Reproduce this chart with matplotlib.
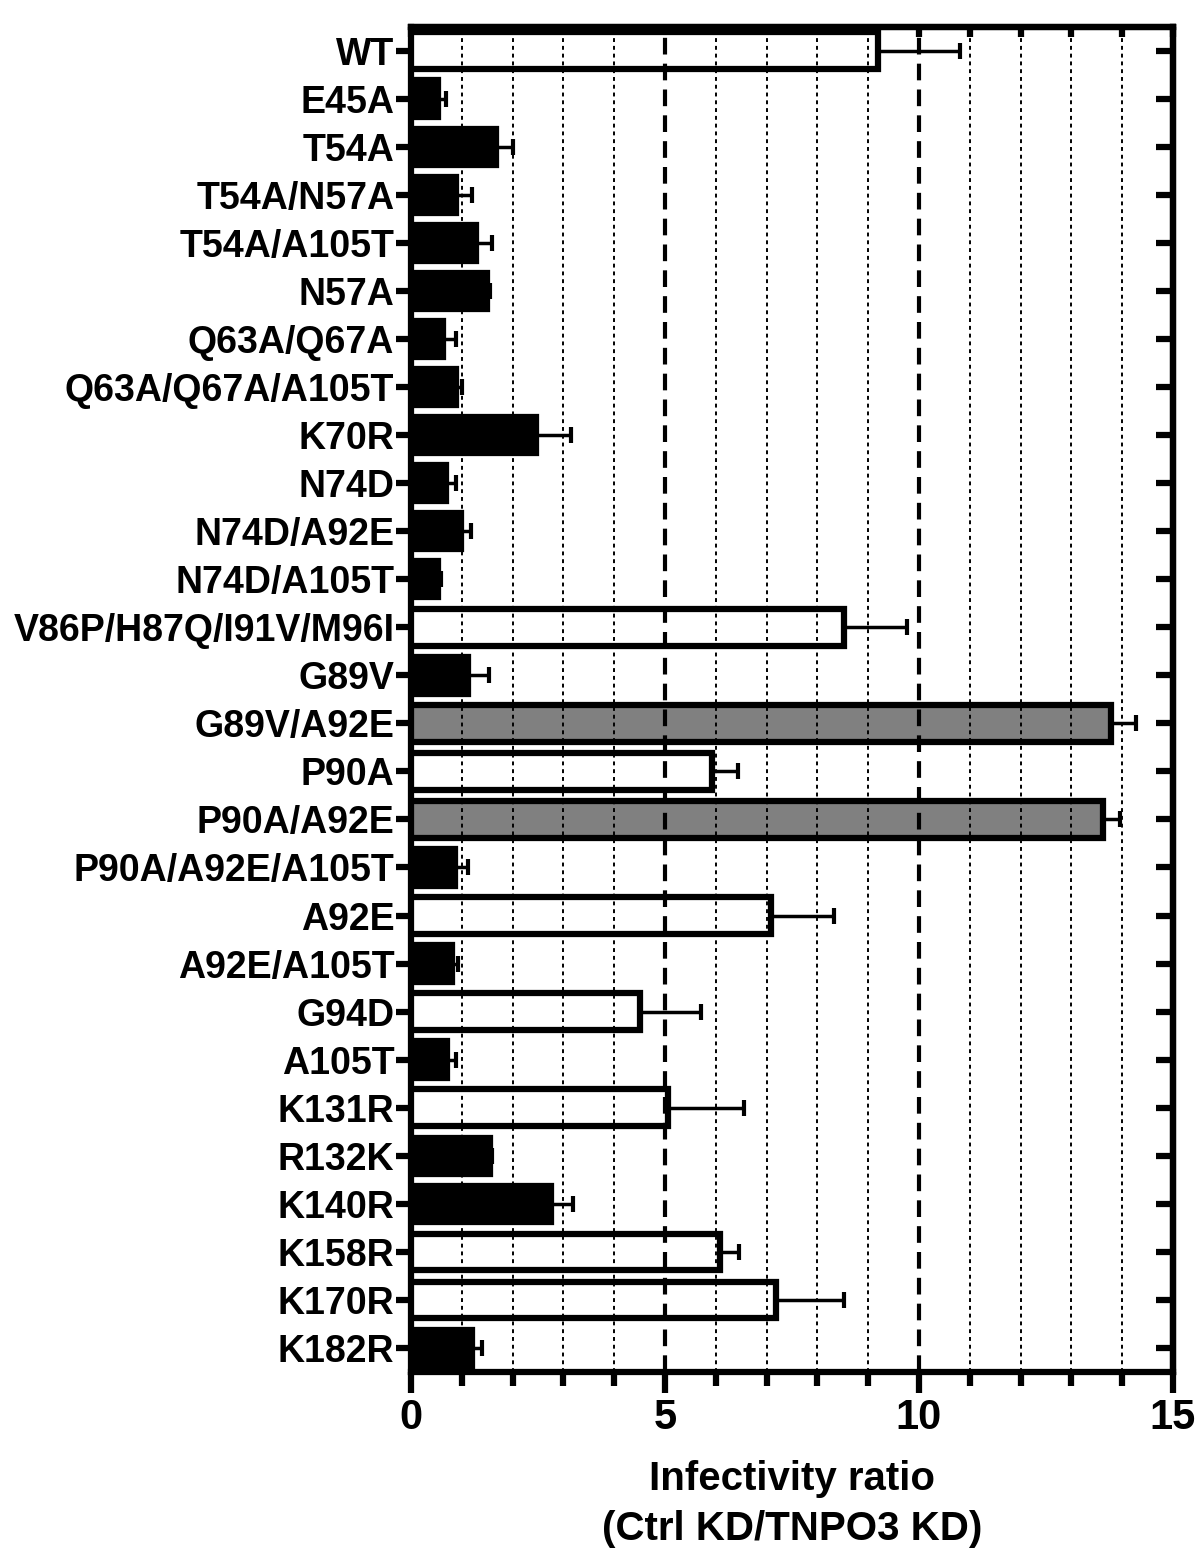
import numpy as np
import matplotlib
matplotlib.use('Agg')
import matplotlib.pyplot as plt
from matplotlib.ticker import MultipleLocator

plt.rcParams['font.family'] = ['Liberation Sans', 'DejaVu Sans']
plt.rcParams['font.weight'] = 'bold'

# Data
mutants = ['WT', 'E45A', 'T54A', 'T54A/N57A', 'T54A/A105T', 'N57A', 'Q63A/Q67A',
           'Q63A/Q67A/A105T', 'K70R', 'N74D', 'N74D/A92E', 'N74D/A105T',
           'V86P/H87Q/I91V/M96I', 'G89V', 'G89V/A92E', 'P90A', 'P90A/A92E',
           'P90A/A92E/A105T', 'A92E', 'A92E/A105T', 'G94D', 'A105T', 'K131R',
           'R132K', 'K140R', 'K158R', 'K170R', 'K182R']
ratio = [9.2, 0.53, 1.67, 0.88, 1.27, 1.49, 0.63, 0.88, 2.47, 0.69, 0.98, 0.53,
         8.53, 1.12, 13.78, 5.92, 13.63, 0.86, 7.08, 0.8, 4.51, 0.71, 5.06,
         1.55, 2.75, 6.08, 7.18, 1.2]
sem = [1.6, 0.15, 0.33, 0.32, 0.33, 0.06, 0.25, 0.12, 0.67, 0.19, 0.2, 0.07,
       1.23, 0.41, 0.49, 0.51, 0.33, 0.26, 1.25, 0.12, 1.19, 0.17, 1.49,
       0.05, 0.43, 0.37, 1.35, 0.19]
# group: 'b' = black, 'w' = white, 'g' = grey
group = ['w', 'b', 'b', 'b', 'b', 'b', 'b', 'b', 'b', 'b', 'b', 'b',
         'w', 'b', 'g', 'w', 'g', 'b', 'w', 'b', 'w', 'b', 'w',
         'b', 'b', 'w', 'w', 'b']
fill = {'b': 'black', 'w': 'white', 'g': '#808080'}

fig = plt.figure(figsize=(12, 15.68), dpi=100)
ax = fig.add_axes([0.3425, 0.125, 0.635, 0.858])

y = np.arange(len(mutants))

# grid lines: dotted every unit, dashed at 5 and 10 (drawn over the bar fill)
for v in range(1, 15):
    if v % 5 == 0:
        ax.axvline(v, color='black', lw=3, ls=(0, (4, 2.2)), zorder=4)
    else:
        ax.axvline(v, color='black', lw=1.4, ls=(0, (2, 2)), zorder=4)

ax.barh(y, ratio, height=0.76, color=[fill[g] for g in group],
        edgecolor='black', linewidth=4.5, zorder=3)
ax.errorbar(ratio, y, xerr=[np.zeros(len(sem)), sem], fmt='none',
            ecolor='black', elinewidth=2.5, capsize=6, capthick=3, zorder=2)

ax.set_xlim(0, 15)
ax.set_ylim(len(mutants) - 0.5, -0.5)
ax.set_yticks(y)
ax.set_yticklabels(mutants, fontsize=27, fontweight='bold')
ax.xaxis.set_major_locator(MultipleLocator(5))
ax.xaxis.set_minor_locator(MultipleLocator(1))
ax.tick_params(axis='x', which='major', length=15, width=4.5, labelsize=30,
               direction='out', pad=4)
ax.tick_params(axis='x', which='minor', length=10, width=4.5, direction='out')
ax.tick_params(axis='y', length=11, width=4.5, direction='out', pad=1)
for lab in ax.get_xticklabels():
    lab.set_fontweight('bold')

# inward ticks on the top and right edges
top = ax.secondary_xaxis('top')
top.xaxis.set_major_locator(MultipleLocator(1))
top.tick_params(axis='x', length=7, width=4.5, direction='in', labeltop=False)
top.spines['top'].set_linewidth(4.5)
right = ax.secondary_yaxis('right')
right.set_yticks(y)
right.tick_params(axis='y', length=12, width=4.5, direction='in', labelright=False)
right.spines['right'].set_linewidth(4.5)

for s in ax.spines.values():
    s.set_linewidth(4.5)

ax.set_xlabel('Infectivity ratio\n(Ctrl KD/TNPO3 KD)', fontsize=29,
              fontweight='bold', linespacing=1.4, va='top')
ax.xaxis.set_label_coords(0.5, -0.0655)

fig.savefig('out.png', dpi=100)
